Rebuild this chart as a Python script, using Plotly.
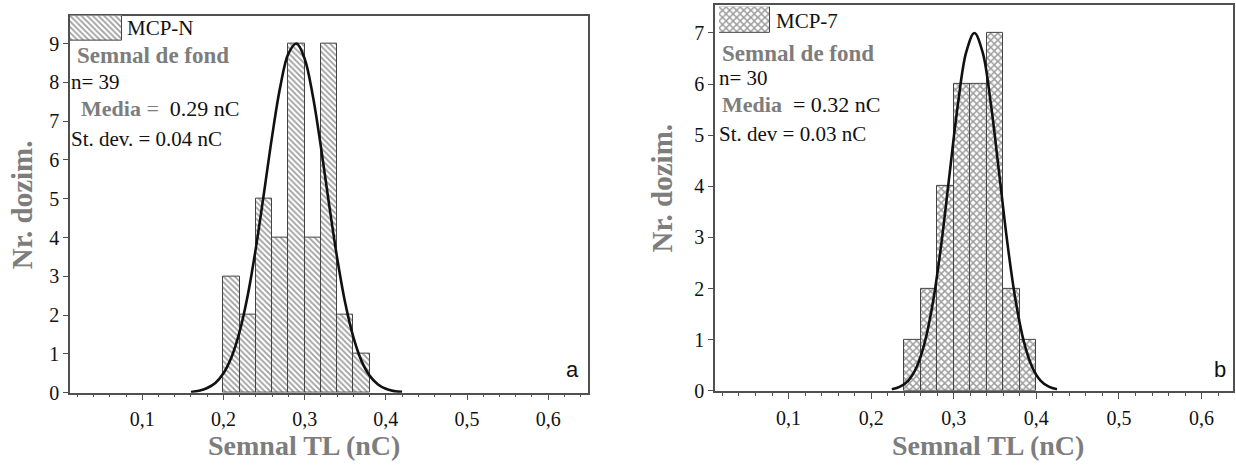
import plotly.graph_objects as go

W, H = 1236, 475

# ---------------- data ----------------
# panel a (MCP-N)
bins_a = [0.21, 0.23, 0.25, 0.27, 0.29, 0.31, 0.33, 0.35, 0.37]   # bin centres (nC)
counts_a = [3, 2, 5, 4, 9, 4, 9, 2, 1]
fit_x_a = [0.16, 0.17, 0.18, 0.19, 0.20, 0.21, 0.22, 0.23, 0.24, 0.25, 0.26, 0.27, 0.28,
           0.29, 0.30, 0.31, 0.32, 0.33, 0.34, 0.35, 0.36, 0.37, 0.38, 0.39, 0.40, 0.41, 0.42]
fit_y_a = [0.02, 0.05, 0.12, 0.25, 0.50, 0.92, 1.58, 2.52, 3.74, 5.16, 6.62, 7.89, 8.74,
           9.00, 8.61, 7.66, 6.34, 4.87, 3.48, 2.31, 1.43, 0.82, 0.44, 0.22, 0.10, 0.04, 0.02]

# panel b (MCP-7)
bins_b = [0.25, 0.27, 0.29, 0.31, 0.33, 0.35, 0.37, 0.39]
counts_b = [1, 2, 4, 6, 6, 7, 2, 1]
fit_x_b = [0.225, 0.235, 0.245, 0.255, 0.265, 0.275, 0.285, 0.295, 0.305, 0.315, 0.325,
           0.335, 0.345, 0.355, 0.365, 0.375, 0.385, 0.395, 0.405, 0.415, 0.425]
fit_y_b = [0.03, 0.08, 0.20, 0.46, 0.95, 1.75, 2.88, 4.25, 5.60, 6.62, 7.00,
           6.62, 5.60, 4.25, 2.88, 1.75, 0.95, 0.46, 0.20, 0.08, 0.03]

bin_width = 0.02
x_tickvals = [0.1, 0.2, 0.3, 0.4, 0.5, 0.6]
x_ticktext = ["0,1", "0,2", "0,3", "0,4", "0,5", "0,6"]
y_ticks_a = [0, 1, 2, 3, 4, 5, 6, 7, 8, 9]
y_ticks_b = [0, 1, 2, 3, 4, 5, 6, 7]

# ---------------- style ----------------
SERIF = "Liberation Serif, Times New Roman, serif"
GREY = "#7d7d7d"
AX = "#505050"
pat_a = dict(shape="\\", size=4, solidity=0.45, fgcolor="#3c3c3c", bgcolor="white")
pat_b = dict(shape="x", size=5, solidity=0.5, fgcolor="#3c3c3c", bgcolor="white")


def px(x):
    return x / W


def py(y):
    return 1 - y / H


fig = go.Figure()

# histograms
fig.add_trace(go.Bar(x=bins_a, y=counts_a, width=bin_width, name="MCP-N",
                     marker=dict(color="white", line=dict(color="#444", width=1), pattern=pat_a),
                     xaxis="x", yaxis="y", showlegend=False))
fig.add_trace(go.Scatter(x=fit_x_a, y=fit_y_a, mode="lines",
                         line=dict(color="#111", width=2.6, shape="spline"),
                         xaxis="x", yaxis="y", showlegend=False))
fig.add_trace(go.Bar(x=bins_b, y=counts_b, width=bin_width, name="MCP-7",
                     marker=dict(color="white", line=dict(color="#444", width=1), pattern=pat_b),
                     xaxis="x2", yaxis="y2", showlegend=False))
fig.add_trace(go.Scatter(x=fit_x_b, y=fit_y_b, mode="lines",
                         line=dict(color="#111", width=2.6, shape="spline"),
                         xaxis="x2", yaxis="y2", showlegend=False))

# legend swatches (single bar on hidden mini axes)
fig.add_trace(go.Bar(x=[0], y=[1], width=1, marker=dict(color="white", line=dict(color="#444", width=1), pattern=pat_a),
                     xaxis="x3", yaxis="y3", showlegend=False, hoverinfo="skip"))
fig.add_trace(go.Bar(x=[0], y=[1], width=1, marker=dict(color="white", line=dict(color="#444", width=1), pattern=pat_b),
                     xaxis="x4", yaxis="y4", showlegend=False, hoverinfo="skip"))

xcommon = dict(showline=True, mirror=True, linecolor=AX, linewidth=1.6, showgrid=False, zeroline=False,
               ticks="outside", ticklen=6, tickwidth=1.3, tickcolor=AX, ticklabelstandoff=2,
               tickmode="array", tickvals=x_tickvals, ticktext=x_ticktext,
               tickfont=dict(family=SERIF, size=20, color="#111"),
               minor=dict(tickmode="linear", tick0=0, dtick=0.02, ticks="outside", ticklen=3, tickcolor=AX, tickwidth=1))
ycommon = dict(showline=True, mirror=True, linecolor=AX, linewidth=1.6, showgrid=False, zeroline=False,
               ticks="outside", ticklen=5, tickwidth=1.3, tickcolor=AX, tickmode="array",
               tickfont=dict(family=SERIF, size=20, color="#111"))

hidden = dict(visible=False, showgrid=False, zeroline=False, fixedrange=True)

fig.update_layout(
    width=W, height=H, margin=dict(l=0, r=0, t=0, b=0),
    paper_bgcolor="white", plot_bgcolor="white", bargap=0, showlegend=False,
    xaxis=dict(domain=[px(70), px(588)], range=[0.011, 0.649], anchor="y", **xcommon),
    yaxis=dict(domain=[py(402), py(16)], range=[0, 9.72], anchor="x", tickvals=y_ticks_a, **ycommon),
    xaxis2=dict(domain=[px(715), px(1233)], range=[0.011, 0.638], anchor="y2", **xcommon),
    yaxis2=dict(domain=[py(400), py(5)], range=[0, 7.55], anchor="x2", tickvals=y_ticks_b, **ycommon),
    xaxis3=dict(domain=[px(70), px(122)], range=[-0.5, 0.5], anchor="y3", **hidden),
    yaxis3=dict(domain=[py(42), py(16)], range=[0, 1], anchor="x3", **hidden),
    xaxis4=dict(domain=[px(719), px(770)], range=[-0.5, 0.5], anchor="y4", **hidden),
    yaxis4=dict(domain=[py(34), py(7)], range=[0, 1], anchor="x4", **hidden),
)


def note(x, y, text, size=22, color="#111", anchor="left", angle=0, family=SERIF):
    fig.add_annotation(x=px(x), y=py(y), xref="paper", yref="paper", text=text, showarrow=False,
                       xanchor=anchor, yanchor="middle", textangle=angle, borderpad=0,
                       font=dict(family=family, size=size, color=color))


# panel a texts
note(126, 29, "MCP-N", size=21)
note(76, 57, "<b>Semnal de fond</b>", size=23, color=GREY)
note(70, 84, "n= 39", size=21)
note(80, 111, f"<b><span style='color:{GREY}'>Media</span></b> <span style='color:{GREY}'>=</span>  0.29 nC", size=22)
note(70, 142, "St. dev. = 0.04 nC", size=21)
note(572, 378, "a", size=22, family="Liberation Sans, Arial, sans-serif", anchor="center")

# panel b texts
note(775, 22, "MCP-7", size=21)
note(721, 55, "<b>Semnal de fond</b>", size=23, color=GREY)
note(718, 80, "n= 30", size=21)
note(721, 107, f"<b><span style='color:{GREY}'>Media</span></b>  = 0.32 nC", size=22)
note(718, 137, "St. dev = 0.03 nC", size=21)
note(1220, 378, "b", size=22, family="Liberation Sans, Arial, sans-serif", anchor="center")

# axis titles
note(304, 456, "<b>Semnal TL (nC)</b>", size=28, color=GREY, anchor="center")
note(988, 456, "<b>Semnal TL (nC)</b>", size=28, color=GREY, anchor="center")
note(22, 210, "<b>Nr. dozim.</b>", size=29, color=GREY, anchor="center", angle=-90)
note(662, 193, "<b>Nr. dozim.</b>", size=29, color=GREY, anchor="center", angle=-90)

fig.write_html("out.html", config={"displayModeBar": False},
               post_script="document.body.style.margin='0px';")
